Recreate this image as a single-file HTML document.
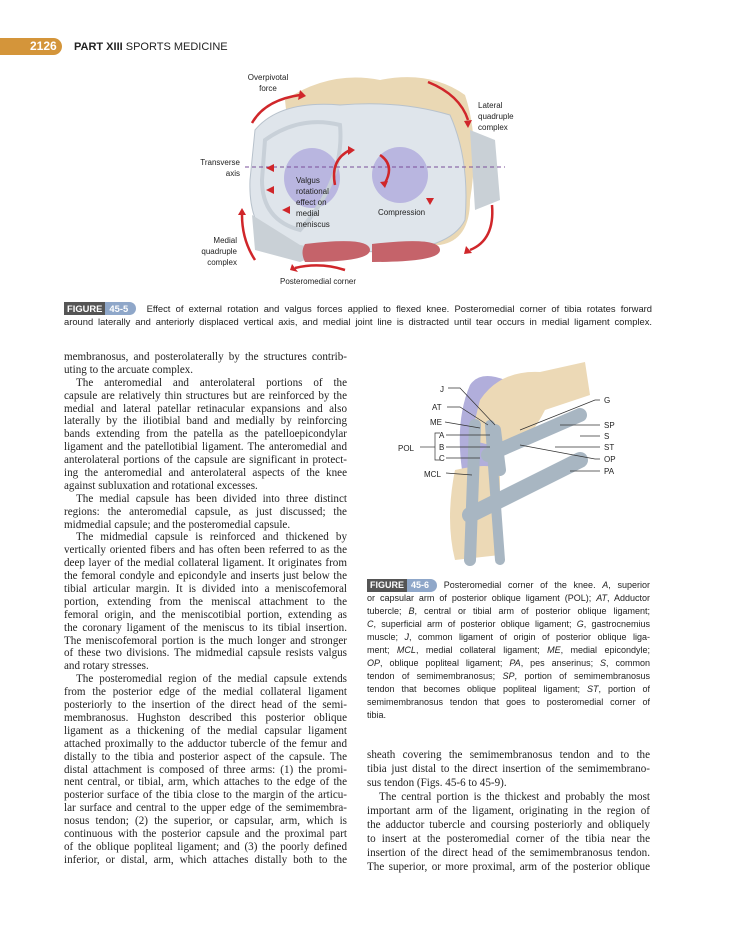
<!DOCTYPE html>
<html><head><meta charset="utf-8"><style>
body{margin:0;background:#fff;}
#p{position:relative;width:730px;height:930px;overflow:hidden;background:#fff;}
.l{position:relative;width:283px;height:12.9px;overflow:hidden;font-family:"Liberation Serif",serif;font-size:11.1px;line-height:13px;color:#222;text-align:justify;text-align-last:justify;}
.r .l{height:14px;line-height:14px;}
.i{width:271px;margin-left:12px;}
.e{text-align-last:left;}
.c{position:absolute;height:14px;overflow:hidden;font-family:"Liberation Sans",sans-serif;font-size:9px;line-height:13px;color:#222;text-align:justify;text-align-last:justify;}
.t{font-family:"Liberation Sans",sans-serif;font-size:8px;fill:#222;}
.fig{display:inline-block;background:#555;color:#fff;font-weight:bold;padding:0 3px;font-family:"Liberation Sans",sans-serif;}
.fn{display:inline-block;background:#8fa7c9;color:#fff;font-weight:bold;padding:0 8px 0 4px;border-radius:0 7px 7px 0;font-family:"Liberation Sans",sans-serif;}
</style></head><body><div id="p">
<div style="position:absolute;left:0;top:38px;width:62px;height:17px;background:#d4953a;border-radius:0 9px 9px 0;"></div>
<div style="position:absolute;left:30px;top:38px;font:bold 12px 'Liberation Sans',sans-serif;color:#fff;line-height:17px;">2126</div>
<div style="position:absolute;left:74px;top:39px;font:11px 'Liberation Sans',sans-serif;color:#222;line-height:16px;"><b>PART XIII</b> SPORTS MEDICINE</div>

<svg style="position:absolute;left:0;top:0" width="730" height="300">
<path d="M285,100 Q330,70 380,80 Q430,70 465,95 Q480,140 470,200 Q470,240 440,245 L300,240 Z" fill="#ead8b4"/>
<path d="M255,130 Q280,100 340,105 Q400,100 450,115 Q470,160 465,220 Q450,250 380,252 L280,248 Q248,230 250,180 Z" fill="#dfe5eb" stroke="#b8c2cc"/>
<ellipse cx="312" cy="178" rx="28" ry="30" fill="#b9b6e0"/>
<ellipse cx="400" cy="175" rx="28" ry="28" fill="#b9b6e0"/>
<path d="M265,140 Q300,115 340,125 Q345,180 300,230 Q262,220 262,180 Z" fill="none" stroke="#c8d0d8" stroke-width="4"/>
<path d="M470,130 L495,140 L500,200 L475,210 Z" fill="#c9d0d6"/>
<path d="M252,215 L300,245 L330,250 L300,262 L255,250 Z" fill="#c9d0d6"/>
<path d="M305,244 Q370,236 370,250 Q370,262 305,262 Q300,252 305,244Z M372,244 Q440,236 440,250 Q440,262 372,262 Z" fill="#c5636a"/>
<line x1="245" y1="167" x2="505" y2="167" stroke="#7a4f9a" stroke-dasharray="4,3"/>
<g fill="none" stroke="#d0262a" stroke-width="2.5">
<path d="M252,123 Q265,100 300,95"/><path d="M428,82 Q460,95 468,120"/>
<path d="M492,205 Q495,240 470,250"/><path d="M255,260 Q242,240 242,215"/>
<path d="M345,270 Q320,262 295,268"/><path d="M335,185 Q330,160 350,150"/>
<path d="M380,155 Q395,165 385,183"/>
</g>
<g fill="#d0262a">
<polygon points="300,90 306,96 298,100"/><polygon points="464,121 472,120 468,128"/>
<polygon points="466,246 472,253 464,254"/><polygon points="238,215 246,215 242,208"/>
<polygon points="292,264 298,272 290,270"/><polygon points="348,146 355,150 348,155"/>
<polygon points="380,182 388,181 385,188"/>
<polygon points="266,168 274,164 274,172"/><polygon points="266,190 274,186 274,194"/>
<polygon points="282,210 290,206 290,214"/><polygon points="430,205 426,198 434,198"/>
</g>
<text class="t" x="268" y="80" text-anchor="middle">Overpivotal</text><text class="t" x="268" y="91" text-anchor="middle">force</text>
<text class="t" x="478" y="108">Lateral</text><text class="t" x="478" y="119">quadruple</text><text class="t" x="478" y="130">complex</text>
<text class="t" x="240" y="165" text-anchor="end">Transverse</text><text class="t" x="240" y="176" text-anchor="end">axis</text>
<text class="t" x="296" y="183">Valgus</text><text class="t" x="296" y="194">rotational</text><text class="t" x="296" y="205">effect on</text><text class="t" x="296" y="216">medial</text><text class="t" x="296" y="227">meniscus</text>
<text class="t" x="378" y="215">Compression</text>
<text class="t" x="237" y="243" text-anchor="end">Medial</text><text class="t" x="237" y="254" text-anchor="end">quadruple</text><text class="t" x="237" y="265" text-anchor="end">complex</text>
<text class="t" x="280" y="284">Posteromedial corner</text>
</svg>
<div class="c" style="left:64px;top:302px;width:588px;font-size:9.4px;"><span class="fig">FIGURE</span><span class="fn">45-5</span>&nbsp; Effect of external rotation and valgus forces applied to flexed knee. Posteromedial corner of tibia rotates forward</div>
<div class="c e" style="left:64px;top:315px;width:588px;font-size:9.4px;">around laterally and anteriorly displaced vertical axis, and medial joint line is distracted until tear occurs in medial ligament complex.</div>

<svg style="position:absolute;left:0;top:0" width="730" height="930">
<path d="M470,385 Q480,370 505,380 L500,470 L462,470 Q455,420 470,385Z" fill="#b1aedb"/>
<path d="M480,400 Q500,370 540,372 L585,362 L590,395 L545,410 Q530,440 510,450 L470,440 Z" fill="#ecd9b6"/>
<path d="M455,470 Q490,462 500,470 L500,555 L455,560 Q445,520 455,470Z" fill="#ecd9b6"/>
<g stroke="#a8b6c2" fill="none" stroke-linecap="round">
<path d="M475,425 L470,560" stroke-width="12"/><path d="M490,425 L500,560" stroke-width="10"/>
<path d="M488,455 L580,415" stroke-width="14"/><path d="M470,515 L580,460" stroke-width="16"/>
<path d="M495,430 L500,470" stroke-width="12"/>
</g>
<g stroke="#333" stroke-width="0.7" fill="none">
<path d="M448,388 L460,388 L495,425"/><path d="M447,407 L460,407 L488,425"/><path d="M445,422 L480,428"/>
<path d="M446,435 L490,435"/><path d="M446,447 L490,447"/><path d="M446,458 L480,458"/>
<path d="M440,433 L435,433 L435,460 L440,460"/><path d="M420,447 L435,447"/><path d="M446,473 L472,475"/>
<path d="M600,400 L595,400 L520,430"/><path d="M600,425 L560,425"/><path d="M600,436 L580,436"/><path d="M600,447 L555,447"/>
<path d="M600,459 L595,459 L520,445"/><path d="M600,471 L570,471"/>
</g>
<text x="440" y="392" class="t">J</text><text x="432" y="410" class="t">AT</text><text x="430" y="425" class="t">ME</text>
<text x="439" y="438" class="t">A</text><text x="439" y="450" class="t">B</text><text x="439" y="461" class="t">C</text>
<text x="398" y="451" class="t">POL</text><text x="424" y="477" class="t">MCL</text>
<text x="604" y="403" class="t">G</text><text x="604" y="428" class="t">SP</text><text x="604" y="439" class="t">S</text>
<text x="604" y="450" class="t">ST</text><text x="604" y="462" class="t">OP</text><text x="604" y="474" class="t">PA</text>
</svg>
<div class="c" style="left:367px;top:579px;width:283px;"><span class="fig">FIGURE</span><span class="fn">45-6</span> Posteromedial corner of the knee. <i>A</i>, superior</div>
<div class="c" style="left:367px;top:592px;width:283px;">or capsular arm of posterior oblique ligament (POL); <i>AT</i>, Adductor</div>
<div class="c" style="left:367px;top:605px;width:283px;">tubercle; <i>B</i>, central or tibial arm of posterior oblique ligament;</div>
<div class="c" style="left:367px;top:618px;width:283px;"><i>C</i>, superficial arm of posterior oblique ligament; <i>G</i>, gastrocnemius</div>
<div class="c" style="left:367px;top:631px;width:283px;">muscle; <i>J</i>, common ligament of origin of posterior oblique liga-</div>
<div class="c" style="left:367px;top:644px;width:283px;">ment; <i>MCL</i>, medial collateral ligament; <i>ME</i>, medial epicondyle;</div>
<div class="c" style="left:367px;top:657px;width:283px;"><i>OP</i>, oblique popliteal ligament; <i>PA</i>, pes anserinus; <i>S</i>, common</div>
<div class="c" style="left:367px;top:670px;width:283px;">tendon of semimembranosus; <i>SP</i>, portion of semimembranosus</div>
<div class="c" style="left:367px;top:683px;width:283px;">tendon that becomes oblique popliteal ligament; <i>ST</i>, portion of</div>
<div class="c" style="left:367px;top:696px;width:283px;">semimembranosus tendon that goes to posteromedial corner of</div>
<div class="c e" style="left:367px;top:709px;width:283px;">tibia.</div>

<div style="position:absolute;left:64px;top:351px;width:283px;">
<div class="l">membranosus, and posterolaterally by the structures contrib-</div>
<div class="l e">uting to the arcuate complex.</div>
<div class="l i">The anteromedial and anterolateral portions of the</div>
<div class="l">capsule are relatively thin structures but are reinforced by the</div>
<div class="l">medial and lateral patellar retinacular expansions and also</div>
<div class="l">laterally by the iliotibial band and medially by reinforcing</div>
<div class="l">bands extending from the patella as the patelloepicondylar</div>
<div class="l">ligament and the patellotibial ligament. The anteromedial and</div>
<div class="l">anterolateral portions of the capsule are significant in protect-</div>
<div class="l">ing the anteromedial and anterolateral aspects of the knee</div>
<div class="l e">against subluxation and rotational excesses.</div>
<div class="l i">The medial capsule has been divided into three distinct</div>
<div class="l">regions: the anteromedial capsule, as just discussed; the</div>
<div class="l e">midmedial capsule; and the posteromedial capsule.</div>
<div class="l i">The midmedial capsule is reinforced and thickened by</div>
<div class="l">vertically oriented fibers and has often been referred to as the</div>
<div class="l">deep layer of the medial collateral ligament. It originates from</div>
<div class="l">the femoral condyle and epicondyle and inserts just below the</div>
<div class="l">tibial articular margin. It is divided into a meniscofemoral</div>
<div class="l">portion, extending from the meniscal attachment to the</div>
<div class="l">femoral origin, and the meniscotibial portion, extending as</div>
<div class="l">the coronary ligament of the meniscus to its tibial insertion.</div>
<div class="l">The meniscofemoral portion is the much longer and stronger</div>
<div class="l">of these two divisions. The midmedial capsule resists valgus</div>
<div class="l e">and rotary stresses.</div>
<div class="l i">The posteromedial region of the medial capsule extends</div>
<div class="l">from the posterior edge of the medial collateral ligament</div>
<div class="l">posteriorly to the insertion of the direct head of the semi-</div>
<div class="l">membranosus. Hughston described this posterior oblique</div>
<div class="l">ligament as a thickening of the medial capsular ligament</div>
<div class="l">attached proximally to the adductor tubercle of the femur and</div>
<div class="l">distally to the tibia and posterior aspect of the capsule. The</div>
<div class="l">distal attachment is composed of three arms: (1) the promi-</div>
<div class="l">nent central, or tibial, arm, which attaches to the edge of the</div>
<div class="l">posterior surface of the tibia close to the margin of the articu-</div>
<div class="l">lar surface and central to the upper edge of the semimembra-</div>
<div class="l">nosus tendon; (2) the superior, or capsular, arm, which is</div>
<div class="l">continuous with the posterior capsule and the proximal part</div>
<div class="l">of the oblique popliteal ligament; and (3) the poorly defined</div>
<div class="l">inferior, or distal, arm, which attaches distally both to the</div>
</div>

<div class="r" style="position:absolute;left:367px;top:748px;width:283px;">
<div class="l">sheath covering the semimembranosus tendon and to the</div>
<div class="l">tibia just distal to the direct insertion of the semimembrano-</div>
<div class="l e">sus tendon (Figs. 45-6 to 45-9).</div>
<div class="l i">The central portion is the thickest and probably the most</div>
<div class="l">important arm of the ligament, originating in the region of</div>
<div class="l">the adductor tubercle and coursing posteriorly and obliquely</div>
<div class="l">to insert at the posteromedial corner of the tibia near the</div>
<div class="l">insertion of the direct head of the semimembranosus tendon.</div>
<div class="l">The superior, or more proximal, arm of the posterior oblique</div>
</div>
</div></body></html>
